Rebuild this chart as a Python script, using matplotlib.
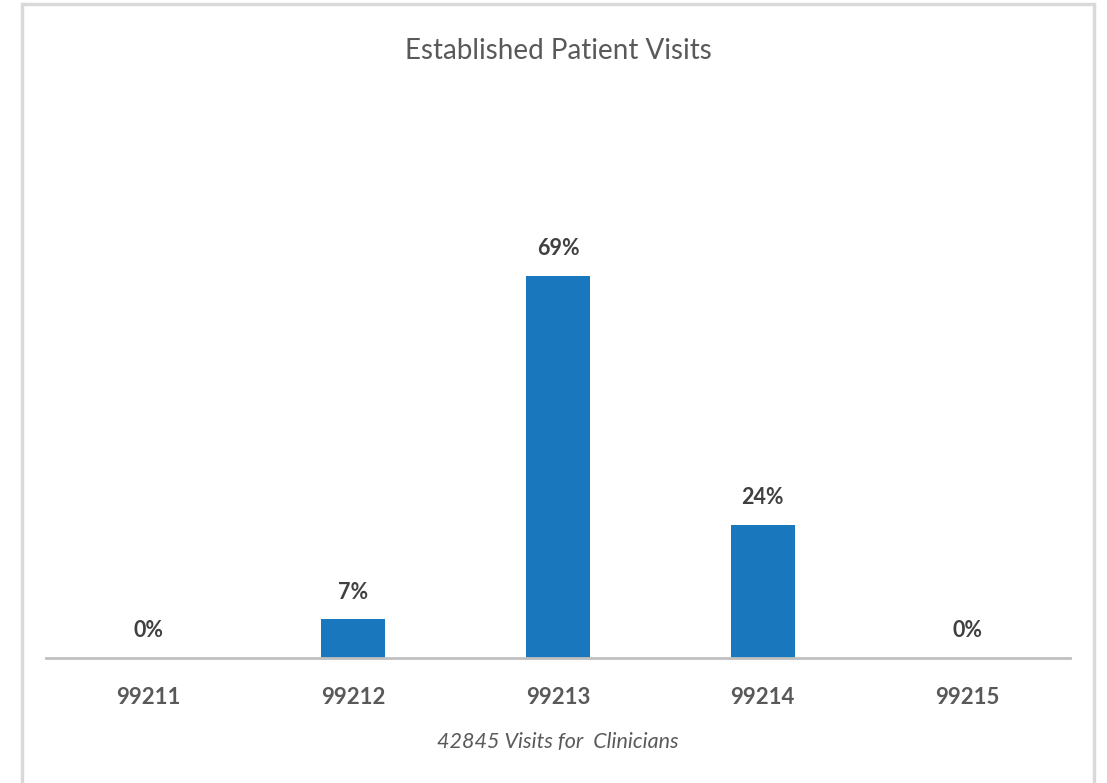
import matplotlib.pyplot as plt
from matplotlib.patches import Rectangle

# visit codes and share of visits (%)
codes = ["99211", "99212", "99213", "99214", "99215"]
shares = [0, 7, 69, 24, 0]
total_visits = 42845

plt.rcParams['font.family'] = ['Lato', 'DejaVu Sans']

fig = plt.figure(figsize=(11.07, 7.83), dpi=100)

# light frame around the chart area
fig.patches.append(Rectangle((22 / 1107, -0.01), (1094 - 22) / 1107, 1 - 4 / 783 + 0.01,
                             transform=fig.transFigure, fill=False,
                             edgecolor="#d9d9d9", linewidth=2.5))

ax = fig.add_axes([46 / 1107, (783 - 658) / 783, 1024 / 1107, 0.68])
x = range(len(codes))
bars = ax.bar(x, shares, width=0.315, color="#1877bd")

ax.set_xlim(-0.5, 4.5)
ax.set_ylim(0, 69 / ((658 - 276) / (0.68 * 783)))

for b, v in zip(bars, shares):
    ax.annotate(f"{v}%", (b.get_x() + b.get_width() / 2, v),
                xytext=(0, 12), textcoords="offset points",
                ha="center", va="bottom", fontsize=15.5, fontweight="bold",
                color="#404040")

ax.set_xticks(list(x))
ax.set_xticklabels(codes, fontsize=16, fontweight="bold", color="#595959")
ax.tick_params(axis="x", length=0, pad=21)
ax.set_yticks([])
for s in ["top", "right", "left"]:
    ax.spines[s].set_visible(False)
ax.spines["bottom"].set_color("#bfbfbf")
ax.spines["bottom"].set_linewidth(2)

ax.set_xlabel(f"{total_visits} Visits for  Clinicians", fontsize=15.5,
              style="italic", color="#595959", labelpad=17)

fig.text(0.504, 1 - 51 / 783, "Established Patient Visits", ha="center",
         va="center", fontsize=20, color="#595959")

fig.savefig("out.png", dpi=100, facecolor="white")
